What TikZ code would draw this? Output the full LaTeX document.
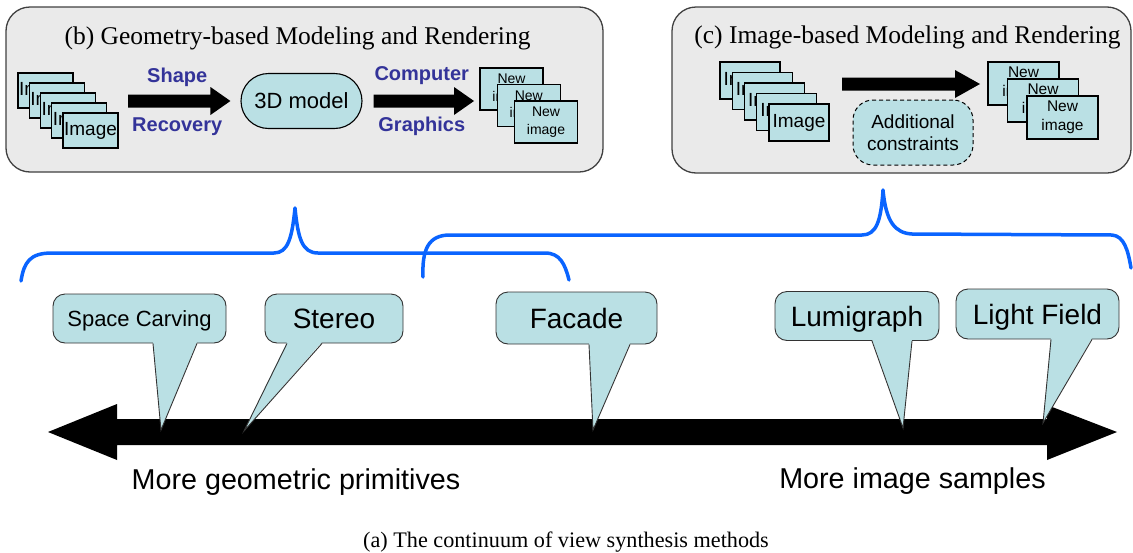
\documentclass[tikz,border=0pt]{standalone}
\usepackage{fontspec}
\setmainfont{Liberation Serif}
\setsansfont{Liberation Sans}
\usetikzlibrary{calc,positioning,shapes.misc}

\definecolor{panelgray}{HTML}{EAEAEA}
\definecolor{boxcyan}{HTML}{BAE0E4}
\definecolor{labelblue}{HTML}{333399}
\definecolor{braceblue}{HTML}{0A64FF}

\newcommand{\pxfont}[2]{\fontsize{#1}{#2}\selectfont}
% block arrow: start, tip, shaft, head, head length
\newcommand{\blockarrow}[5]{%
  \fill ($(#1)+(0,#3/2)$) -- ($(#2)+(-#5,#3/2)$) -- ($(#2)+(-#5,#4/2)$) -- (#2)
    -- ($(#2)+(-#5,-#4/2)$) -- ($(#2)+(-#5,-#3/2)$) -- ($(#1)+(0,-#3/2)$) -- cycle;}
% callout tail: box, base left x, base right x, tip
\newcommand{\calltail}[4]{%
  \fill[boxcyan] ($(#2,0 |- #1.south)+(0,-1.5)$) -- (#4) -- ($(#3,0 |- #1.south)+(0,-1.5)$) -- cycle;
  \draw[line width=0.9pt, draw=black!80] (#2,0 |- #1.south) -- (#4) -- (#3,0 |- #1.south);}

\tikzset{
  panel/.style={draw=black!75, line width=1.3pt, fill=panelgray, rounded corners=24pt},
  title/.style={anchor=base, inner sep=0pt, font=\pxfont{25.5}{28}},
  photo/.style={draw, line width=1.1pt, fill=boxcyan, inner sep=0pt, align=center},
  pill/.style={rounded rectangle, draw, line width=1.1pt, fill=boxcyan, minimum width=121,
    minimum height=55, inner sep=0pt, font=\sffamily\pxfont{22}{24}},
  bluelabel/.style={inner sep=0pt, text=labelblue, font=\sffamily\bfseries\pxfont{20}{22}},
  extra/.style={draw, dash pattern=on 4pt off 3pt, line width=1pt, fill=boxcyan, rounded corners=20pt,
    minimum width=120, minimum height=65, inner sep=0pt, align=center, font=\sffamily\pxfont{19}{22}},
  brace/.style={draw=braceblue, line width=3.5pt, line cap=round, line join=round},
  callbox/.style={draw=black!80, line width=0.9pt, fill=boxcyan, rounded corners=12pt, minimum height=49,
    inner sep=0pt, font=\sffamily\pxfont{28}{30}, text height=20pt, text depth=0pt},
  axislabel/.style={anchor=base, inner sep=0pt, font=\sffamily\pxfont{28.7}{30}},
}

\begin{document}
\begin{tikzpicture}[x=1pt, y=-1pt]
\useasboundingbox (0,0) rectangle (1133,552);

% Geometry-based panel
\draw[panel] (6,7) rectangle (603,172);
\node[title] (geomtitle) at (297.5,44) {(b) Geometry-based Modeling and Rendering};
\foreach \k in {1,...,5}
  \node[photo, minimum width=55, minimum height=35, font=\sffamily\pxfont{19}{21}]
    (gimg\k) at ({34.25+11.25*\k},{80.5+10*\k}) {Image};
\node[pill] (model) at (301.5,101) {3D model};
\coordinate (shapeA) at (128,101);
\coordinate (shapeB) at ($(model.west)+(-10,0)$);
\blockarrow{shapeA}{shapeB}{13}{28}{20}
\node[bluelabel] (shape) at ($(shapeA)!0.5!(shapeB)+(-2,-24)$) {Shape};
\node[bluelabel] (recovery) at ($(shapeA)!0.5!(shapeB)+(-2,26)$) {Recovery};
\coordinate (compA) at ($(model.east)+(11,0)$);
\coordinate (compB) at (474,101);
\blockarrow{compA}{compB}{13}{28}{20}
\node[bluelabel] (computer) at ($(compA)!0.5!(compB)+(-2,-25)$) {Computer};
\node[bluelabel] (graphics) at ($(compA)!0.5!(compB)+(-2,25)$) {Graphics};
\foreach \k in {0,1,2}
  \node[photo, minimum width=63, minimum height=42, font=\sffamily\pxfont{14}{17.7}]
    (gnew\k) at ({511.5+17.25*\k},{89+16.5*\k}) {New\\image};

% Image-based panel
\draw[panel] (672,7) rectangle (1131,173);
\node[title] (imgtitle) at (907.5,43) {(c) Image-based Modeling and Rendering};
\foreach \k in {1,...,5}
  \node[photo, minimum width=60, minimum height=37, font=\sffamily\pxfont{19}{21}]
    (cimg\k) at ({737.75+12.25*\k},{70+10.5*\k}) {Image};
\coordinate (ibrA) at (842,84);
\coordinate (ibrB) at (980,84);
\blockarrow{ibrA}{ibrB}{13}{28}{25}
\node[extra] (constraints) at (913,132.5) {Additional\\constraints};
\foreach \k in {0,1,2}
  \node[photo, minimum width=71, minimum height=43, font=\sffamily\pxfont{15.5}{19}]
    (cnew\k) at ({1023.5+19.5*\k},{83.5+17*\k}) {New\\image};

% Braces
\draw[brace] (21,281) .. controls (24,262) and (30,253) .. (52,253) -- (274,253)
  .. controls (288,253) and (292,238) .. (295,208) .. controls (298,238) and (302,253) .. (318,253)
  -- (545,253) .. controls (560,253) and (565,264) .. (569,280);
\draw[brace] (423,277) .. controls (422,250) and (428,235) .. (450,235) -- (862,235)
  .. controls (876,235) and (881,222) .. (883,190) .. controls (886,222) and (895,233) .. (912,234)
  -- (1112,235) .. controls (1124,236) and (1128,250) .. (1131,268);

% Continuum arrow
\coordinate (geomend) at (48,432);
\coordinate (imageend) at (1117,432);
\fill (geomend) -- ++(69,-28) -- ++(0,15) -- ($(imageend)+(-70,-13)$) -- ++(0,-14) -- (imageend)
  -- ++(-70,28) -- ++(0,-15) -- ($(geomend)+(69,13)$) -- ++(0,15) -- cycle;

% Methods
\node[callbox, minimum width=173, font=\sffamily\pxfont{22}{24}, text height=15.8pt] (carving) at (139.5,318.5) {Space Carving};
\node[callbox, minimum width=138] (stereo) at (334,318.5) {Stereo};
\node[callbox, minimum width=161, minimum height=52] (facade) at (576.5,318) {Facade};
\node[callbox, minimum width=164] (lumigraph) at (857,316) {Lumigraph};
\node[callbox, minimum width=163, minimum height=50] (lightfield) at (1037.5,314) {Light Field};
\coordinate (carvingtip) at (161,430);
\coordinate (stereotip) at (244,431);
\coordinate (facadetip) at (593,430);
\coordinate (lumigraphtip) at (903,428);
\coordinate (lightfieldtip) at (1043,423);
\calltail{carving}{153}{197}{carvingtip}
\calltail{stereo}{287}{322}{stereotip}
\calltail{facade}{589}{630}{facadetip}
\calltail{lumigraph}{872}{912}{lumigraphtip}
\calltail{lightfield}{1051}{1092}{lightfieldtip}

% Ends of the continuum
\node[axislabel] (moregeom) at (296,489) {More geometric primitives};
\node[axislabel] (moreimg) at (912.5,488) {More image samples};
\node[anchor=base, inner sep=0pt, font=\pxfont{22.2}{24}] (caption) at (566,547) {(a) The continuum of view synthesis methods};
\end{tikzpicture}
\end{document}
